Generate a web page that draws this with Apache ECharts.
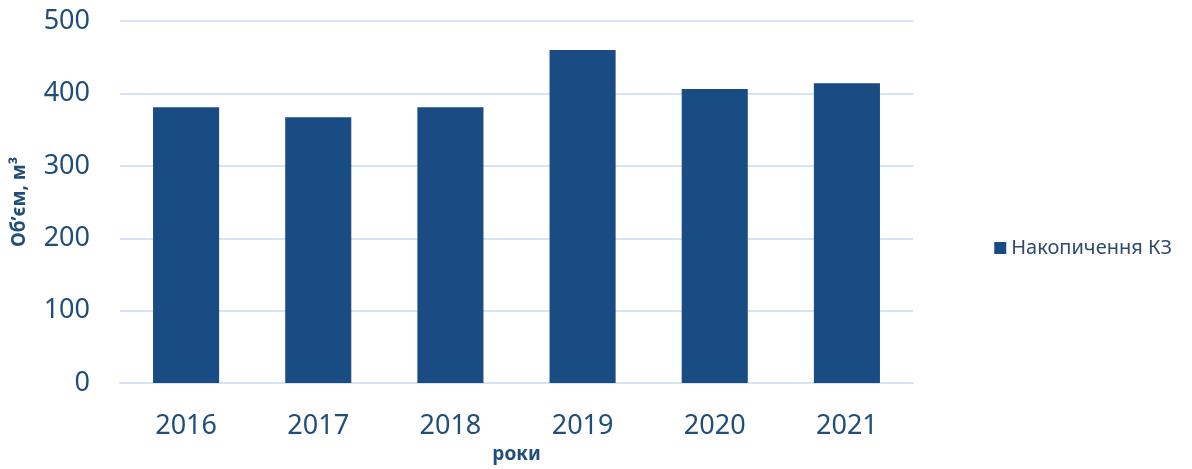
<!DOCTYPE html>
<html><head><meta charset="utf-8">
<script src="https://cdn.jsdelivr.net/npm/echarts@6/dist/echarts.min.js"></script>
<style>html,body{margin:0;padding:0;background:#fff}#c{width:1192px;height:469px}</style>
</head><body><div id="c"></div>
<script>
const categories = ['2016','2017','2018','2019','2020','2021'];
const values = [381, 367, 381, 460, 406, 414];
const seriesName = 'Накопичення КЗ';
const chart = echarts.init(document.getElementById('c'));
const txt = '#1F4E79';
chart.setOption({
  animation:false,
  textStyle:{fontFamily:'Noto Sans'},
  grid:{left:120,right:279,top:21,bottom:80},
  legend:{right:15,top:233,orient:'vertical',itemWidth:12,itemHeight:12,itemGap:6,
    icon:'rect',textStyle:{fontSize:20,color:'#2F4A70',fontFamily:'Noto Sans'},data:[seriesName]},
  xAxis:{type:'category',data:categories,
    axisLine:{lineStyle:{color:'#D6E3F4',width:2}},axisTick:{show:false},
    axisLabel:{fontSize:27,color:txt,margin:30},
    name:'роки',nameLocation:'middle',nameGap:60,
    nameTextStyle:{fontSize:19,fontWeight:'bold',color:txt}},
  yAxis:{type:'value',min:0,max:500,interval:100,
    axisLine:{show:false},axisTick:{show:false},
    splitLine:{lineStyle:{color:'#D6E3F4',width:2}},
    axisLabel:{fontSize:27,color:txt,margin:30},
    name:'Об’єм, м³',nameLocation:'middle',nameGap:91,
    nameTextStyle:{fontSize:19,fontWeight:'bold',color:txt}},
  series:[{name:seriesName,type:'bar',data:values,barWidth:'50%',
    itemStyle:{color:'#1A4C84'}}]
});
</script></body></html>
